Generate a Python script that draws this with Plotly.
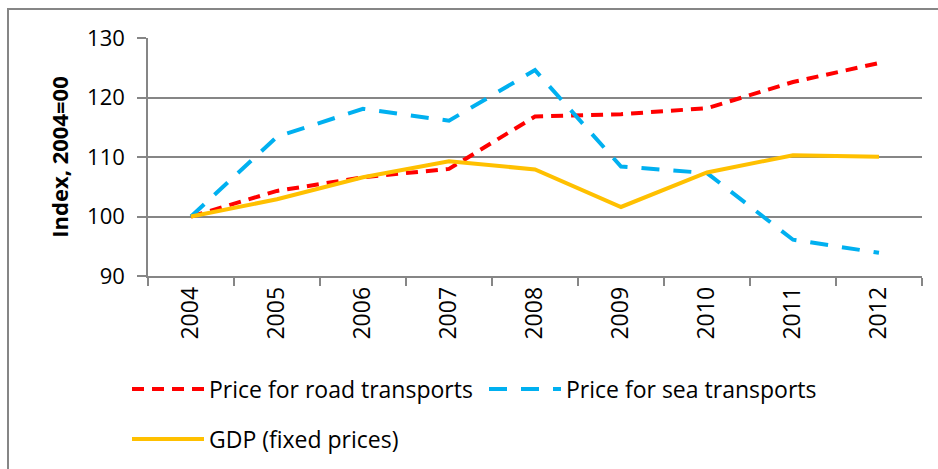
import plotly.graph_objects as go

years = ["2004", "2005", "2006", "2007", "2008", "2009", "2010", "2011", "2012"]
road = [100, 104.3, 106.6, 108.0, 116.8, 117.2, 118.2, 122.6, 125.8]
sea = [100, 113.4, 118.1, 116.1, 124.6, 108.4, 107.3, 96.1, 93.9]
gdp = [100, 102.9, 106.6, 109.3, 107.9, 101.6, 107.4, 110.3, 110.05]

GRID = "#868686"
FONT = "Open Sans"
fig = go.Figure()
fig.add_trace(go.Scatter(x=years, y=road, mode="lines", name="Price for road transports",
                         line=dict(color="#FF0000", width=4, dash="12px,8px"), legend="legend"))
fig.add_trace(go.Scatter(x=years, y=sea, mode="lines", name="Price for sea transports",
                         line=dict(color="#00B0F0", width=4, dash="18px,14px"), legend="legend"))
fig.add_trace(go.Scatter(x=years, y=gdp, mode="lines", name="GDP (fixed prices)",
                         line=dict(color="#FFC000", width=4), legend="legend2"))

leg_x = (127 - 148) / 774
fig.update_layout(
    width=938, height=469,
    margin=dict(l=148, r=16, t=38, b=193, autoexpand=False),
    paper_bgcolor="white", plot_bgcolor="white",
    font=dict(family=FONT, color="#000000"),
    showlegend=True,
    legend=dict(orientation="h", x=leg_x, y=-0.475, xanchor="left", yanchor="middle",
                font=dict(family=FONT, size=23), itemwidth=72, entrywidth=270,
                bgcolor="rgba(0,0,0,0)"),
    legend2=dict(orientation="h", x=leg_x, y=-0.685, xanchor="left", yanchor="middle",
                 font=dict(family=FONT, size=23), itemwidth=72, bgcolor="rgba(0,0,0,0)"),
    xaxis=dict(type="category", showgrid=False, showline=True, linecolor=GRID, linewidth=1.5,
               ticks="outside", tickson="boundaries", ticklen=8, tickcolor=GRID, tickwidth=1.5,
               tickangle=-90, tickfont=dict(size=23), range=[-0.5, 8.5]),
    yaxis=dict(range=[90, 130], dtick=10, showgrid=True, gridcolor=GRID, gridwidth=1.5,
               showline=True, linecolor=GRID, linewidth=1.5, zeroline=False,
               ticks="outside", ticklen=9, tickcolor=GRID, tickwidth=1.5,
               tickfont=dict(size=22), ticklabelstandoff=8,
               title=dict(text="Index, 2004=00", font=dict(family=FONT, size=22, weight="bold"),
                          standoff=12)),
    shapes=[
        dict(type="rect", xref="paper", yref="paper",
             x0=(8 - 148) / 774, x1=(960 - 148) / 774,
             y0=(276 - 490) / 238, y1=(276 - 9) / 238,
             line=dict(color=GRID, width=2), layer="below"),
    ],
)

fig.write_html("out.html", config={"displayModeBar": False},
               post_script="document.body.style.margin='0';document.body.style.overflow='hidden';")
